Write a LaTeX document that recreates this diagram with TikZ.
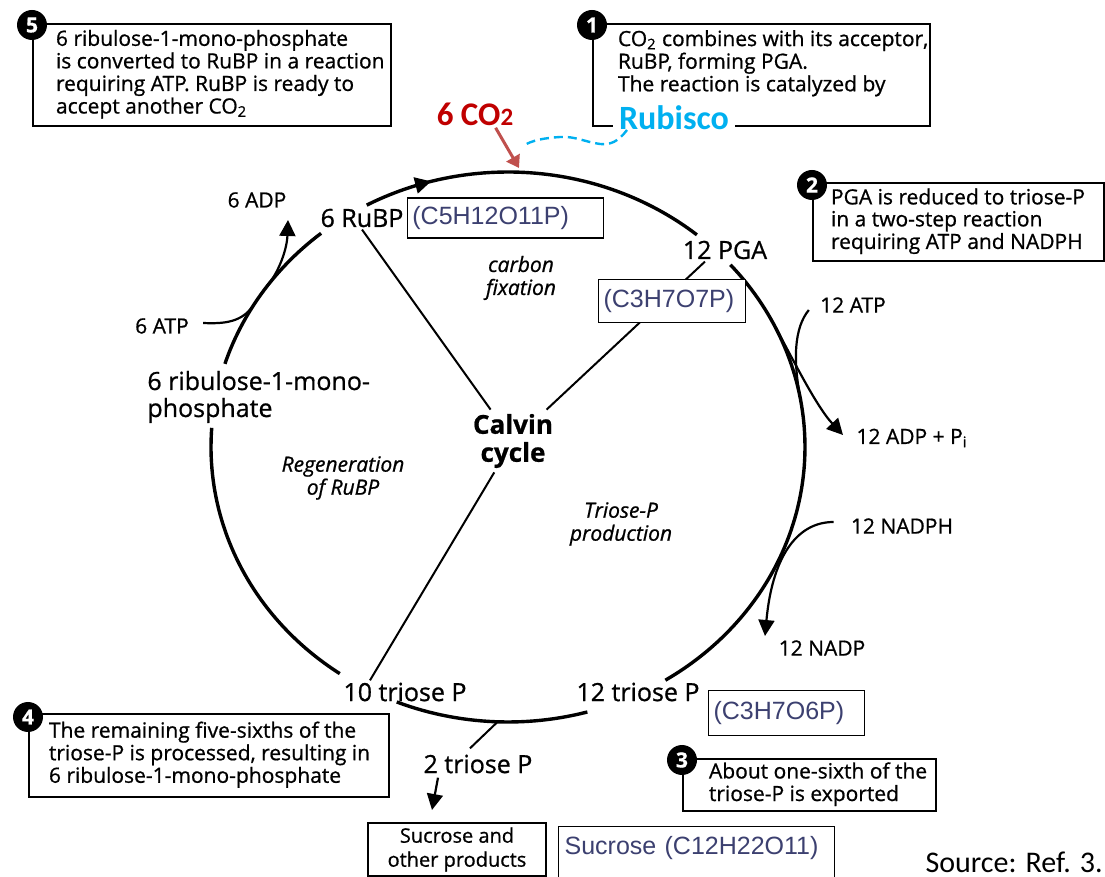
\documentclass[tikz,border=0pt]{standalone}
\usepackage{fontspec}
\setmainfont{Open Sans}[RawFeature={embolden=0.8}]
\newfontfamily\calibrifont{Carlito}
\newfontfamily\arialfont{Liberation Sans}
\usetikzlibrary{arrows.meta,positioning}

\definecolor{cotwored}{RGB}{192,0,0}
\definecolor{cotwoarrow}{RGB}{192,80,77}
\definecolor{rubiscoblue}{RGB}{0,176,240}
\definecolor{formulaink}{RGB}{60,64,112}

% box text: width, left pad, lines
\newcommand{\notetext}[3]{\makebox[#1][l]{\hspace*{#2}\begin{tabular}[c]{@{}l@{}}#3\end{tabular}}}

\tikzset{
  cyc/.style={line width=1.7pt},
  spoke/.style={line width=1pt},
  feed/.style={line width=1.1pt},
  tipped/.style={-{Triangle[length=8pt,width=8pt]}},
  notebox/.style={draw, line width=1pt, inner sep=0pt, anchor=north west, font=\fontsize{10.5}{11}\selectfont},
  numdot/.style={circle, fill=black, text=white, inner sep=0pt, minimum size=15pt, font=\bfseries\fontsize{10.5}{10.5}\selectfont},
  formbox/.style={draw, line width=0.6pt, fill=white, align=left, inner xsep=2.5pt, text=formulaink, font=\arialfont\fontsize{12.5}{13}\selectfont},
  lbl/.style={font=\fontsize{12.5}{13.5}\selectfont, inner sep=1pt},
  sidelbl/.style={font=\fontsize{10.5}{12}\selectfont, inner sep=1pt},
  phase/.style={font=\itshape\fontsize{10.5}{11.5}\selectfont, align=center, inner sep=1pt},
}

\begin{document}
\begin{tikzpicture}[x=0.5pt,y=-0.5pt]
  \useasboundingbox (0,0) rectangle (1105,877);
  \fill[white] (0,0) rectangle (1105,877);
  \clip (0,0) rectangle (1105,877);

  % labels on the cycle
  \node[lbl] (rubp) at (362,218) {6 RuBP};
  \node[lbl] (pga) at (725,250) {12 PGA};
  \node[lbl, align=left, anchor=west] (rump) at (145,397) {6 ribulose-1-mono-\\phosphate};
  \node[lbl] (ten) at (405,692) {10 triose P};
  \node[lbl] (twelve) at (638,692) {12 triose P};
  \node[lbl] (two) at (478,764) {2 triose P};
  \node[font=\bfseries\fontsize{13}{14}\selectfont, align=center, inner sep=2pt] (calvin) at (513,441) {Calvin\\cycle};
  \node[phase] (fix) at (521,278) {carbon\\fixation};
  \node[phase] (regen) at (343,478) {Regeneration\\of RuBP};
  \node[phase] (tprod) at (621,524) {Triose-P\\production};

  \node[sidelbl] (adp6) at (257,200) {6 ADP};
  \node[sidelbl] (atp6) at (162,326) {6 ATP};
  \node[sidelbl] (atp12) at (853,305) {12 ATP};
  \node[sidelbl] (adp12) at (912,438) {12 ADP + P\textsubscript{i}};
  \node[sidelbl] (nadph) at (902,526) {12 NADPH};
  \node[sidelbl] (nadp) at (822,648) {12 NADP};

  % the cycle
  \draw[cyc, -{Triangle[length=8pt,width=8pt]}] plot[domain=-118.4:-105, samples=12, variable=\t] ({508+297*cos(\t)},{447+275*sin(\t)});
  \draw[cyc] plot[domain=-106:-50.5, samples=50, variable=\t] ({508+297*cos(\t)},{447+275*sin(\t)});
  \draw[cyc] plot[domain=-41.5:58, samples=80, variable=\t] ({508+297*cos(\t)},{447+275*sin(\t)});
  \draw[cyc] plot[domain=74.5:112, samples=30, variable=\t] ({508+297*cos(\t)},{447+275*sin(\t)});
  \draw[cyc] plot[domain=124.5:184, samples=50, variable=\t] ({508+297*cos(\t)},{447+275*sin(\t)});
  \draw[cyc] plot[domain=197.6:231, samples=30, variable=\t] ({508+297*cos(\t)},{447+275*sin(\t)});

  % spokes
  \draw[spoke] (rubp.south) -- (calvin);
  \draw[spoke] (calvin) -- ([shift={(-20,0)}]pga.south);
  \draw[spoke] (calvin) -- ([shift={(-35,0)}]ten.north);

  % ATP / ADP / NADPH side arrows
  \coordinate (jatp) at ({508+297*cos(-10)},{447+275*sin(-10)});
  \coordinate (jadp) at ({508+297*cos(-28)},{447+275*sin(-28)});
  \coordinate (adptip) at (843,435);
  \coordinate (nadptip) at (765,636);
  \coordinate (jatpsix) at ({508+297*cos(211)},{447+275*sin(211)});
  \coordinate (jadpsix) at ({508+297*cos(216)},{447+275*sin(216)});
  \coordinate (adpsixtip) at (288,220);
  \coordinate (branch) at ({508+297*cos(92)},{447+275*sin(92)});

  \draw[feed] ([shift={(-9,5)}]atp12.west) .. controls (794,328) and (793,360) .. (jatp);
  \draw[feed, tipped] (jadp) .. controls (790,353) and (815,405) .. (adptip);
  \draw[feed, tipped] ([shift={(-15,-4)}]nadph.west) .. controls (795,522) and (772,560) .. (nadptip);
  \draw[feed] ([shift={(12,-3)}]atp6.east) .. controls (225,324) and (242,322) .. (jatpsix);
  \draw[feed, tipped] (jadpsix) .. controls (280,270) and (287,248) .. (adpsixtip);

  % export of triose P
  \draw[spoke] (branch) -- ([shift={(-8,-4)}]two.north);

  % formula boxes
  \node[formbox, text width=93pt, minimum height=20pt, right=0.5pt of rubp] (rubpf) {(C5H12O11P)};
  \node[formbox, text width=68.5pt, minimum height=21.5pt, anchor=north west] (pgaf) at (598,279) {(C3H7O7P)};
  \node[formbox, text width=73pt, minimum height=22.5pt, anchor=north west] (twelvef) at (708,690) {(C3H7O6P)};

  % products
  \node[draw, line width=1pt, align=center, anchor=north west, minimum width=89pt, minimum height=26.5pt, inner sep=1pt, font=\fontsize{10}{12}\selectfont] (sucr) at (367,822) {Sucrose and\\other products};
  \node[formbox, anchor=north west, text width=132pt, inner xsep=3pt, inner ysep=0pt, text height=14pt, text depth=30pt] (sucf) at (558,826) {Sucrose (C12H22O11)};
  \draw[feed, tipped] ([shift={(-40,2)}]two.south) -- ([shift={(65,-12)}]sucr.north west);

  % step notes
  \node[notebox, minimum width=179pt, minimum height=51pt] (note5) at (32,23)
    {\notetext{179pt}{11.5pt}{6 ribulose-1-mono-phosphate\\is converted to RuBP in a reaction\\requiring ATP. RuBP is ready to\\accept another CO\textsubscript{2}}};
  \node[notebox, minimum width=168.5pt, minimum height=51pt] (note1) at (592,23)
    {\notetext{168.5pt}{12.5pt}{CO\textsubscript{2} combines with its acceptor,\\RuBP, forming PGA.\\The reaction is catalyzed by\\\mbox{}}};
  \node[notebox, minimum width=145.5pt, minimum height=39pt] (note2) at (812,182)
    {\notetext{145.5pt}{9pt}{PGA is reduced to triose-P\\in a two-step reaction\\requiring ATP and NADPH}};
  \node[notebox, minimum width=180pt, minimum height=41.5pt] (note4) at (28,713)
    {\notetext{180pt}{10pt}{The remaining five-sixths of the\\triose-P is processed, resulting in\\6 ribulose-1-mono-phosphate}};
  \node[notebox, minimum width=126.5pt, minimum height=26pt] (note3) at (682,758)
    {\notetext{126.5pt}{13pt}{About one-sixth of the\\triose-P is exported}};

  \node[numdot] (num5) at (32,25) {5};
  \node[numdot] (num1) at (592,25) {1};
  \node[numdot] (num2) at (812,185) {2};
  \node[numdot] (num4) at (28,717) {4};
  \node[numdot] (num3) at (682,760) {3};

  % CO2 and Rubisco
  \node[font=\calibrifont\bfseries\fontsize{17}{18}\selectfont, text=rubiscoblue, fill=white, inner xsep=3pt, inner ysep=1pt] (rubisco) at (674,118) {Rubisco};
  \node[font=\calibrifont\bfseries\fontsize{16.5}{18}\selectfont, text=cotwored, inner sep=1pt] (co2) at (475,114) {6 CO{\fontsize{12.5}{12}\selectfont 2}};
  \coordinate (co2hit) at (519,168);
  \coordinate (rubfoot) at (627,130);
  \coordinate (rubend) at (523,146);
  \draw[cotwoarrow, line width=1.5pt, -{Triangle[length=6pt,width=7.5pt]}] ([shift={(-20,0)}]co2.south east) -- (co2hit);
  \draw[rubiscoblue, line width=1.2pt, dash pattern=on 4.5pt off 2.5pt]
    (rubfoot) .. controls (618,142) and (610,145) .. (600,144)
    .. controls (585,142) and (575,136) .. (560,137)
    .. controls (545,138) and (532,140) .. (rubend);

  \node[font=\calibrifont\fontsize{15}{16}\selectfont, anchor=east, inner sep=0pt] (src) at (1103,862) {Source: Ref. 3.};
\end{tikzpicture}
\end{document}
